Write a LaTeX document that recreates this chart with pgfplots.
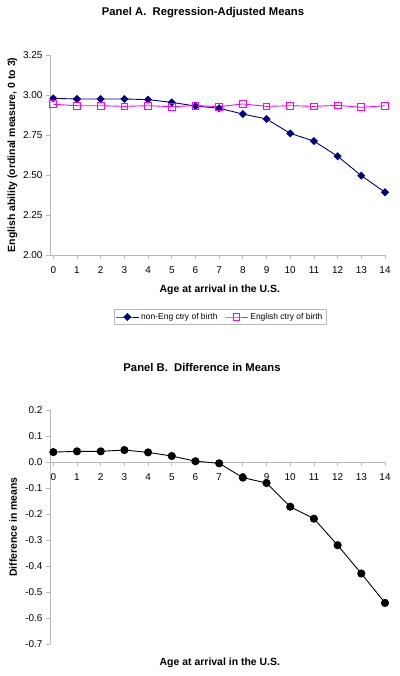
\documentclass[border=0pt]{standalone}
\usepackage{pgfplots}
\pgfplotsset{compat=1.18}
\usepackage{pgfplotstable}
\usepackage{fontspec}
\setmainfont{Liberation Sans}
\definecolor{navyA}{RGB}{0,0,128}
\definecolor{magA}{RGB}{255,0,255}
\definecolor{axgray}{RGB}{185,185,185}
\pgfplotstableread{
age noneng eng
0 2.979 2.942
1 2.975 2.933
2 2.975 2.933
3 2.975 2.929
4 2.971 2.933
5 2.954 2.927
6 2.931 2.934
7 2.917 2.927
8 2.881 2.944
9 2.850 2.929
10 2.760 2.933
11 2.712 2.929
12 2.617 2.935
13 2.496 2.923
14 2.392 2.933
}\tabA
\pgfplotstableread{
age diff
0 0.038
1 0.041
2 0.041
3 0.046
4 0.037
5 0.023
6 0.003
7 -0.005
8 -0.060
9 -0.081
10 -0.172
11 -0.218
12 -0.320
13 -0.429
14 -0.542
}\tabB
\begin{document}
\begin{tikzpicture}
\useasboundingbox (0bp,0bp) rectangle (400bp,676bp);
\pgfplotsset{common/.style={
  scale only axis, clip=false, width=335bp,
  xmin=-0.14, xmax=14, xtick={0,...,14},
  axis line style={axgray, line width=0.8pt},
  tick style={axgray, line width=0.8pt},
  major tick length=4bp, tick align=outside,
  tick label style={font=\fontsize{10}{12}\selectfont},
  xticklabel style={yshift=-4bp},
  /pgf/number format/assume math mode=true,
  label style={font=\bfseries\fontsize{10.5}{12}\selectfont},
}}
\node[font=\bfseries\fontsize{11.3}{13}\selectfont] at (203bp,663bp) {Panel A.\ \ Regression-Adjusted Means};
\node[font=\bfseries\fontsize{11.3}{13}\selectfont] at (202bp,309bp) {Panel B.\ \ Difference in Means};
\begin{axis}[common,
  at={(50bp,421bp)}, anchor=south west, height=200bp,
  axis x line*=bottom, axis y line*=left,
  ymin=2, ymax=3.25, ytick={2,2.25,2.5,2.75,3,3.25},
  yticklabel style={/pgf/number format/.cd, fixed, fixed zerofill, precision=2},
  xlabel={Age at arrival in the U.S.},
  ylabel={English ability (ordinal measure, 0 to 3)},
  xlabel style={at={(axis description cs:0.507,-0.175)}, anchor=center},
  ylabel style={at={(axis description cs:-0.112,0.5)}, anchor=center},
  legend columns=2,
  legend image code/.code={\draw[mark repeat=2, mark phase=2] plot coordinates {(0bp,0bp) (11.5bp,0bp) (23bp,0bp)};},
  legend style={at={(axis description cs:0.507,-0.31)}, anchor=center,
    draw=axgray, font=\fontsize{8.5}{10}\selectfont, inner sep=1.5bp,
    /tikz/every even column/.append style={column sep=5bp}},
]
\addplot[navyA, line width=0.9pt, mark=square*, mark size=2.4bp, mark options={fill=navyA, rotate=45}] table[x=age, y=noneng] {\tabA};
\addlegendentry{non-Eng ctry of birth}
\addplot[magA, line width=0.9pt, mark=square, mark size=3.4bp, mark options={fill=white}] table[x=age, y=eng] {\tabA};
\addlegendentry{English ctry of birth}
\end{axis}
\begin{axis}[common,
  at={(50bp,32bp)}, anchor=south west, height=234bp,
  axis x line*=middle, axis y line*=left,
  hide obscured x ticks=false, hide obscured y ticks=false,
  ymin=-0.7, ymax=0.2, ytick={-0.7,-0.6,-0.5,-0.4,-0.3,-0.2,-0.1,0,0.1,0.2},
  yticklabel style={/pgf/number format/.cd, fixed, fixed zerofill, precision=1},
  xlabel={Age at arrival in the U.S.},
  ylabel={Difference in means},
  xlabel style={at={(axis description cs:0.507,-0.081)}, anchor=center},
  ylabel style={at={(axis description cs:-0.110,0.5)}, anchor=center},
]
\addplot[black, line width=0.9pt, mark=*, mark size=3.6bp] table[x=age, y=diff] {\tabB};
\end{axis}
\end{tikzpicture}
\end{document}
